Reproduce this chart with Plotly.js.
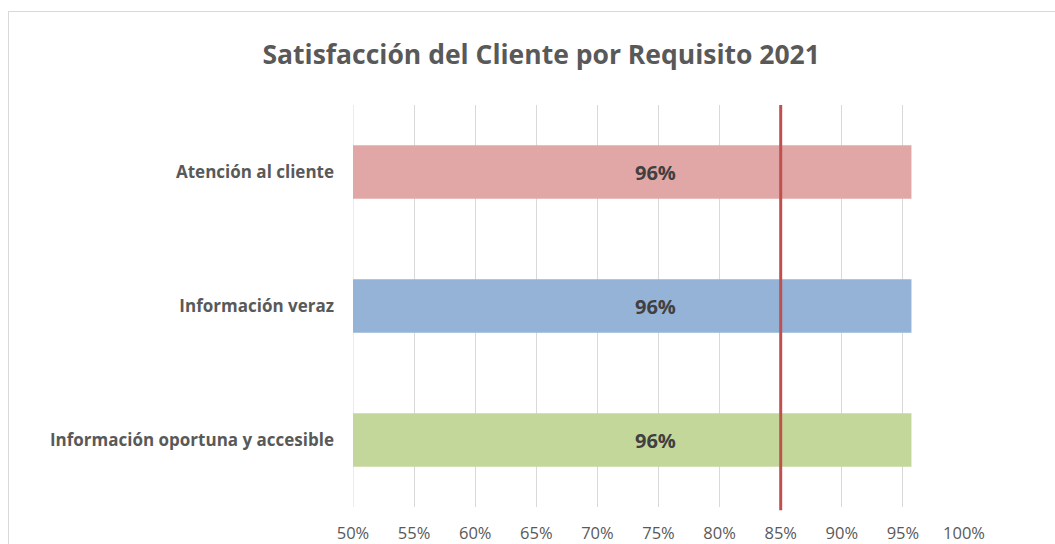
<!DOCTYPE html>
<html><head><meta charset="utf-8">
<script src="https://cdn.plot.ly/plotly-3.0.1.min.js"></script>
<style>
html,body{margin:0;padding:0;background:#fff;overflow:hidden;}
#frame{position:absolute;left:8px;top:11px;width:1200px;height:700px;border:1.5px solid #d9d9d9;box-sizing:border-box;}
#chart{position:absolute;left:0;top:0;width:1055px;height:544px;}
</style></head>
<body>
<div id="frame"></div>
<div id="chart"></div>
<script>
const categories = ["Atención al cliente", "Información veraz", "Información oportuna y accesible"];
const values = [0.957, 0.957, 0.957];
const labels = ["96%", "96%", "96%"];
const barColors = ["#e0a7a6", "#95b3d7", "#c4d79b"];
const targetValue = 0.85;
const axisMin = 0.5, axisMax = 1.0;
const xTicks = [0.5,0.55,0.6,0.65,0.7,0.75,0.8,0.85,0.9,0.95,1.0];
const titleText = "Satisfacción del Cliente por Requisito 2021";

const font = "Open Sans, Noto Sans, sans-serif";
const data = [{
  type: "bar",
  orientation: "h",
  y: categories,
  x: values.map(v => v - axisMin),
  base: axisMin,
  textposition: "none",
  marker: {color: barColors},
  width: 0.4,
  hoverinfo: "skip"
}];
const annotations = categories.map((c, i) => ({
  x: (axisMin + values[i]) / 2, y: c, xref: "x", yref: "y",
  text: labels[i], showarrow: false, xshift: 23,
  font: {family: font, size: 20, color: "#404040", weight: 700}
}));
const layout = {
  width: 1055, height: 544,
  margin: {l: 353, r: 91, t: 105, b: 37},
  paper_bgcolor: "rgba(0,0,0,0)",
  plot_bgcolor: "rgba(0,0,0,0)",
  showlegend: false,
  title: {text: titleText, font: {family: font, size: 26.5, color: "#595959", weight: 700},
          xref: "container", x: 0.513, xanchor: "center", yref: "container", y: 0.899, yanchor: "middle"},
  xaxis: {range: [axisMin, axisMax], tickvals: xTicks, tickformat: ".0%", showgrid: true, gridcolor: "#d9d9d9", gridwidth: 1,
          zeroline: false, showline: false, ticks: "", tickfont: {family: font, size: 16.5, color: "#595959"}, ticklabelstandoff: 14, fixedrange: true},
  yaxis: {type: "category", categoryorder: "array", categoryarray: categories, autorange: "reversed",
          showgrid: false, zeroline: false, showline: false, ticks: "", ticklabelstandoff: 18,
          tickfont: {family: font, size: 17, color: "#595959", weight: 700}, fixedrange: true},
  annotations: annotations,
  shapes: [
    {type: "line", xref: "x", yref: "paper", x0: axisMin, x1: axisMin, y0: 0, y1: 1, line: {color: "#d9d9d9", width: 1}, layer: "below"},
    {type: "line", xref: "x", yref: "paper", x0: targetValue, x1: targetValue, y0: -0.008, y1: 1, line: {color: "#c0504d", width: 3}, layer: "above"}
  ]
};
Plotly.newPlot("chart", data, layout, {displayModeBar: false, staticPlot: true});
</script>
</body></html>
